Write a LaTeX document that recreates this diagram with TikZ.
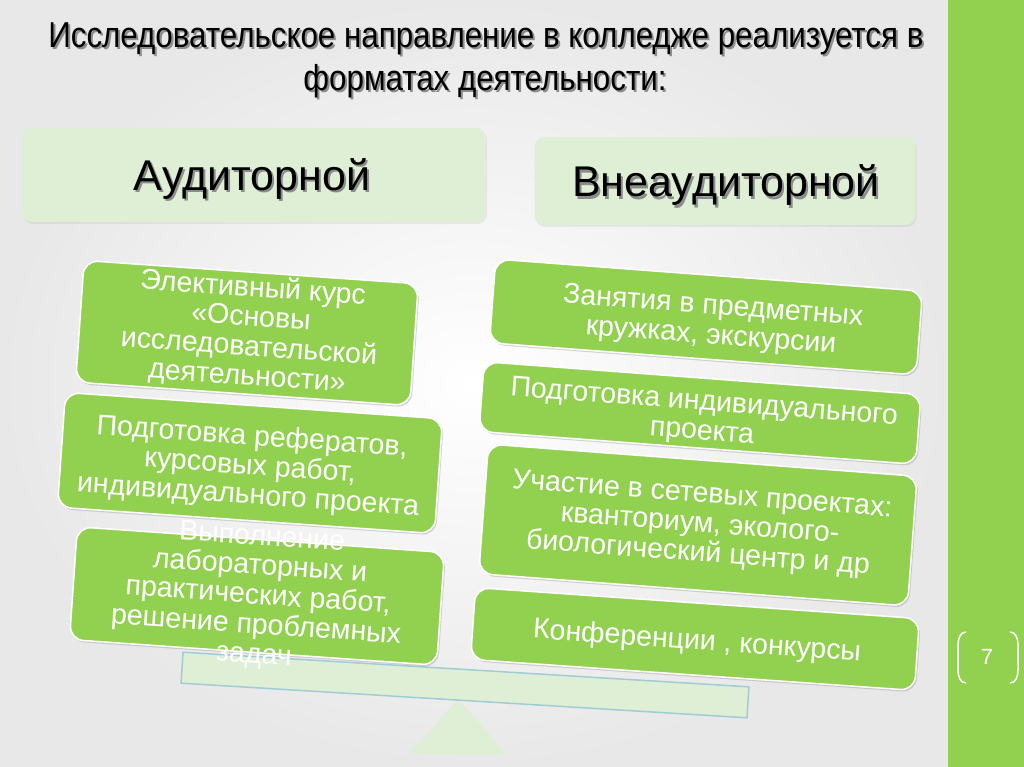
\documentclass[tikz,border=0pt]{standalone}
\usepackage{fontspec}
\setmainfont{Liberation Sans}
\newfontfamily\narrowfont[FakeStretch=0.87]{Liberation Sans}
\usetikzlibrary{shadows}

\definecolor{itemgreen}{RGB}{146,208,80}
\definecolor{paleg}{RGB}{222,239,213}
\definecolor{beamblue}{RGB}{160,204,214}

% text with a small shadow behind it
\newcommand\sh[2][black!45]{\rlap{\kern2pt\raisebox{-2pt}{\textcolor{#1}{#2}}}#2}

\tikzset{
  greenbox/.style={rounded corners=14, fill=itemgreen, draw=white, line width=1.5,
    drop shadow={opacity=0.3, shadow xshift=1.5pt, shadow yshift=-2pt}},
  itemtext/.style={text=white, align=center, inner sep=0, font=\fontsize{28.5}{29.5}\selectfont},
  headbox/.style={rounded corners=10, fill=paleg,
    drop shadow={opacity=0.12, shadow xshift=1pt, shadow yshift=-2pt}},
  headtext/.style={font=\fontsize{43}{43}\selectfont},
  titletext/.style={font=\narrowfont\fontsize{36}{36}\selectfont},
}

\begin{document}
\begin{tikzpicture}[x=1pt, y=-1pt]
    \useasboundingbox (0,0) rectangle (1024,767);
    \shade[inner color=white, outer color=black!9] (0,0) rectangle (948,767);
    \fill[itemgreen] (948,0) rectangle (1024,767);

    % title
    \node[titletext, anchor=base] (title1) at (486,48) {\sh{Исследовательское направление в колледже реализуется в}};
    \node[titletext, anchor=base] (title2) at (485,91) {\sh{форматах деятельности:}};

    % two formats
    \node[headbox, minimum width=464, minimum height=94] (aud) at (254,175) {};
    \node[headtext, anchor=base] (audtxt) at (252,191) {\sh{Аудиторной}};
    \node[headbox, minimum width=381, minimum height=88] (vneaud) at (725,181) {};
    \node[headtext, anchor=base] (vneaudtxt) at (726,197) {\sh{Внеаудиторной}};

    % balance
    \fill[paleg] (458,699) -- (507,754) -- (409,754) -- cycle;
    \node[fill=paleg, draw=beamblue, line width=1.5, minimum width=567, minimum height=31, rotate=-3.5] (beam) at (465,685) {};

    % left side
    \node[greenbox, minimum width=368, minimum height=113, rotate=-4] (lab) at (257,596) {};
    \node[itemtext, rotate=-4] (labtxt) at (258,597) {Выполнение\\ лабораторных и\\ практических работ,\\ решение проблемных\\ задач};
    \node[greenbox, minimum width=378, minimum height=115, rotate=-4] (ref) at (250,463) {};
    \node[itemtext, rotate=-4] (reftxt) at (250,467) {Подготовка рефератов,\\ курсовых работ,\\ индивидуального проекта};
    \node[greenbox, minimum width=335, minimum height=122, rotate=-4] (elect) at (247,333) {};
    \node[itemtext, rotate=-4] (electtxt) at (250,333) {Элективный курс\\ «Основы\\ исследовательской\\ деятельности»};

    % right side
    \node[greenbox, minimum width=428, minimum height=84, rotate=-4.3] (circ) at (706,317) {};
    \node[itemtext, rotate=-4.3] (circtxt) at (712,322) {Занятия в предметных\\ кружках, экскурсии};
    \node[greenbox, minimum width=438, minimum height=70, rotate=-4.3] (proj) at (700,413) {};
    \node[itemtext, rotate=-4.3] (projtxt) at (703,418) {Подготовка индивидуального\\ проекта};
    \node[greenbox, minimum width=430, minimum height=130, rotate=-4.3] (net) at (698,525) {};
    \node[itemtext, rotate=-4.3] (nettxt) at (700,525) {Участие в сетевых проектах:\\ кванториум, эколого-\\ биологический центр и др};
    \node[greenbox, minimum width=445, minimum height=72, rotate=-4] (conf) at (695,639) {};
    \node[itemtext, rotate=-4] (conftxt) at (697,642) {Конференции , конкурсы};

    % page number
    \node[text=white, font=\fontsize{22}{22}\selectfont] (pnum) at (987,657) {7};
    \draw[white, line width=1.5] (966,632) to[out=180,in=90] (958,645) -- (958,670) to[out=-90,in=180] (966,683);
    \draw[white, line width=1.5] (1010,632) to[out=0,in=90] (1018,645) -- (1018,670) to[out=-90,in=0] (1010,683);
\end{tikzpicture}
\end{document}
